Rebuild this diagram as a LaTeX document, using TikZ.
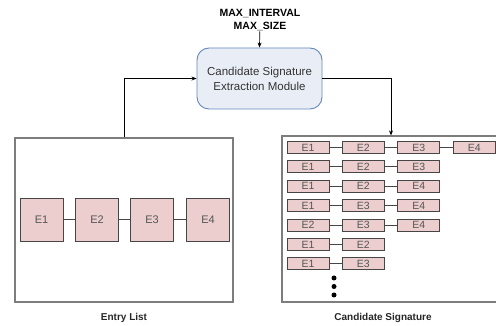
\documentclass[tikz,border=0pt]{standalone}
\usepackage{fontspec}
\setmainfont{Liberation Sans}
\usetikzlibrary{arrows.meta}
\definecolor{nodefill}{RGB}{236,206,206}
\definecolor{nodeline}{RGB}{70,70,70}
\definecolor{modfill}{RGB}{233,238,246}
\definecolor{modline}{RGB}{100,135,190}
\definecolor{boxline}{RGB}{125,125,125}
\definecolor{etext}{RGB}{85,85,85}
\tikzset{
  entrybox/.style={draw=nodeline, fill=nodefill, line width=0.8pt, minimum width=43pt, minimum height=43pt, inner sep=0pt, text=etext, font=\fontsize{11}{13}\selectfont},
  candbox/.style={draw=nodeline, fill=nodefill, line width=0.8pt, minimum width=42pt, minimum height=12pt, inner sep=0pt, text=etext, font=\fontsize{10.5}{12}\selectfont},
  link/.style={draw=nodeline, line width=0.8pt},
  outer/.style={draw=boxline, line width=1.2pt, inner sep=0pt},
  arr/.style={-{Stealth[length=5pt,width=4pt]}, line width=0.7pt, black},
  dotmark/.style={circle, fill=black, inner sep=0pt, minimum size=5pt}
}
\begin{document}
\begin{tikzpicture}[x=1pt,y=-1pt]
\useasboundingbox (0,0) rectangle (496,326);
% parameters
\node[font=\bfseries\fontsize{10.5}{13}\selectfont, align=center, inner sep=0pt] (params) at (260,20.5) {MAX\_INTERVAL\\MAX\_SIZE};
% module
\node[draw=modline, fill=modfill, line width=0.9pt, rounded corners=12pt, minimum width=125pt, minimum height=61pt, align=center, font=\fontsize{11.5}{15}\selectfont, text=black!80] (module) at (259.5,78.5) {Candidate Signature\\Extraction Module};
% outer boxes
\node[outer, minimum width=218pt, minimum height=164pt] (left) at (124,220) {};
\node[outer, minimum width=218pt, minimum height=166pt] (right) at (391,219) {};
% entry list
\node[entrybox] (e1) at (41.5,219.5) {E1};
\node[entrybox] (e2) at (97,219.5) {E2};
\node[entrybox] (e3) at (152,219.5) {E3};
\node[entrybox] (e4) at (208,219.5) {E4};
\draw[link] (e1) -- (e2);
\draw[link] (e2) -- (e3);
\draw[link] (e3) -- (e4);
% candidate rows
\foreach \r/\y/\labs in {1/147.5/{E1,E2,E3,E4}, 2/166.9/{E1,E2,E3}, 3/186.3/{E1,E2,E4}, 4/205.7/{E1,E3,E4}, 5/225.1/{E2,E3,E4}, 6/244.5/{E1,E2}, 7/263.9/{E1,E3}} {
  \foreach \l [count=\c] in \labs {
    \node[candbox] (c\r-\c) at ({308+55.4*(\c-1)},\y) {\l};
    \ifnum\c>1
      \pgfmathtruncatemacro{\p}{\c-1}
      \draw[link] (c\r-\p) -- (c\r-\c);
    \fi
  }
}
% dots
\node[dotmark] (d1) at (334,278) {};
\node[dotmark] (d2) at (334,286.5) {};
\node[dotmark] (d3) at (334,295) {};
% arrows
\draw[arr] (params) -- (module.north);
\draw[arr] (left.north) |- (module.west);
\draw[arr] (module.east) -| (right.north);
% labels
\node[font=\bfseries\fontsize{10}{12}\selectfont, text=black!85] (lbl1) at (124,318) {Entry List};
\node[font=\bfseries\fontsize{10}{12}\selectfont, text=black!85] (lbl2) at (383,318) {Candidate Signature};
\end{tikzpicture}
\end{document}
